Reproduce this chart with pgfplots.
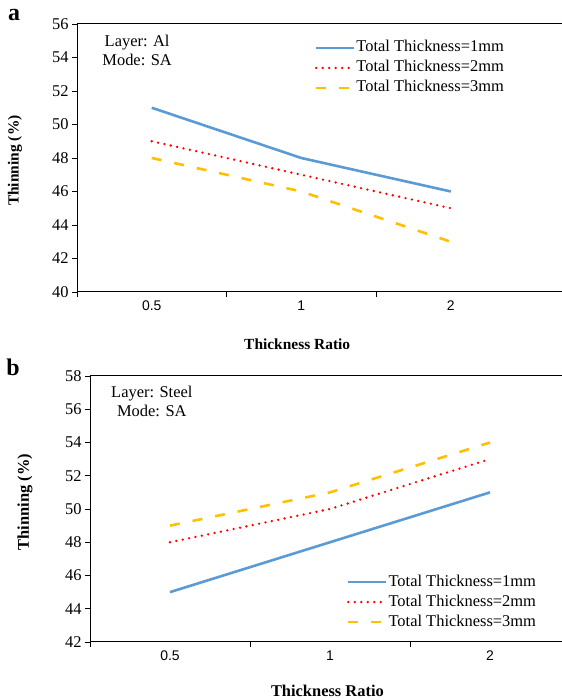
\documentclass[border=0pt]{standalone}
\usepackage{fontspec}
\setmainfont{Liberation Serif}
\setsansfont{Liberation Sans}
\usepackage{pgfplots}
\pgfplotsset{compat=1.18}
\definecolor{cblue}{RGB}{91,155,213}
\definecolor{cred}{RGB}{255,0,0}
\definecolor{cyel}{RGB}{255,192,0}

\pgfplotsset{
  panel/.style={
    scale only axis,
    axis x line*=box, axis y line*=left,
    axis line style={line width=1bp, black},
    xmin=-0.5,
    xtick={0,1,2}, xticklabels={0.5,1,2},
    xtick pos=bottom, ytick pos=left,
    major x tick style={draw=none},
    minor xtick={-0.5,0.5,1.5},
    minor tick length=5bp, major tick length=5bp,
    tick align=outside,
    tick style={line width=0.9bp, black},
    ytick distance=2,
    xticklabel style={font=\sffamily\fontsize{14}{16}\selectfont},
    yticklabel style={font=\rmfamily\fontsize{16.5}{18}\selectfont},
    /pgf/number format/assume math mode=true,
    xlabel={\textbf{Thickness Ratio}},
    ylabel={\textbf{Thinning (\%)}},
    label style={font=\fontsize{15.5}{17}\selectfont},
    legend style={draw=none, fill=none, anchor=north west,
      font=\fontsize{16.5}{19}\selectfont, row sep=2bp,
      inner sep=0pt, cells={anchor=west},
      nodes={inner sep=1bp, text height=12bp, text depth=4bp}},
    legend image code/.code={\draw[##1] (0bp,0bp) -- (38bp,0bp);},
    clip=false,
  },
  s1/.style={cblue, line width=2.6bp},
  s2/.style={cred, line width=2.6bp, line cap=round, dash pattern=on 0bp off 6.5bp},
  s3/.style={cyel, line width=2.6bp, dash pattern=on 10bp off 13bp},
}

\begin{document}
\begin{tikzpicture}[x=1bp,y=1bp]
\useasboundingbox (0,0) rectangle (562,700);

\node[font=\bfseries\fontsize{24}{26}\selectfont] at (14,685) {a};
\node[font=\bfseries\fontsize{24}{26}\selectfont] at (13,333) {b};

\begin{axis}[panel,
  at={(77bp,408bp)}, anchor=south west,
  width=485bp, height=268bp,
  xmax=2.744, ymin=40, ymax=56,
  xlabel style={at={(axis description cs:0.454,-0.194)}, anchor=center},
  ylabel style={at={(axis description cs:-0.128,0.49)}, anchor=center, rotate=0},
  legend style={at={(axis description cs:0.49,0.945)}},
]
\addplot[s1] coordinates {(0,51) (1,48) (2,46)};
\addlegendentry{Total Thickness=1mm}
\addplot[s2] coordinates {(0,49) (1,47) (2,45)};
\addlegendentry{Total Thickness=2mm}
\addplot[s3] coordinates {(0,48) (1,46) (2,43)};
\addlegendentry{Total Thickness=3mm}
\node[align=center, font=\fontsize{16.5}{19}\selectfont] at (axis description cs:0.124,0.903) {Layer: Al\\Mode: SA};
\draw[gray!35, line width=0.8bp] (rel axis cs:1,0) -- (rel axis cs:1,1);
\end{axis}

\begin{axis}[panel,
  at={(90bp,58bp)}, anchor=south west,
  width=472bp, height=266bp,
  xmax=2.45, ymin=42, ymax=58,
  label style={font=\fontsize{16.5}{18}\selectfont},
  xlabel style={at={(axis description cs:0.503,-0.183)}, anchor=center},
  ylabel style={at={(axis description cs:-0.138,0.526)}, anchor=center, rotate=0},
  legend style={at={(axis description cs:0.544,0.26)}},
]
\addplot[s1] coordinates {(0,45) (1,48) (2,51)};
\addlegendentry{Total Thickness=1mm}
\addplot[s2] coordinates {(0,48) (1,50) (2,53)};
\addlegendentry{Total Thickness=2mm}
\addplot[s3] coordinates {(0,49) (1,51) (2,54)};
\addlegendentry{Total Thickness=3mm}
\node[align=center, font=\fontsize{16.5}{19}\selectfont] at (axis description cs:0.131,0.906) {Layer: Steel\\Mode: SA};
\draw[gray!35, line width=0.8bp] (rel axis cs:1,0) -- (rel axis cs:1,1);
\end{axis}
\end{tikzpicture}
\end{document}
